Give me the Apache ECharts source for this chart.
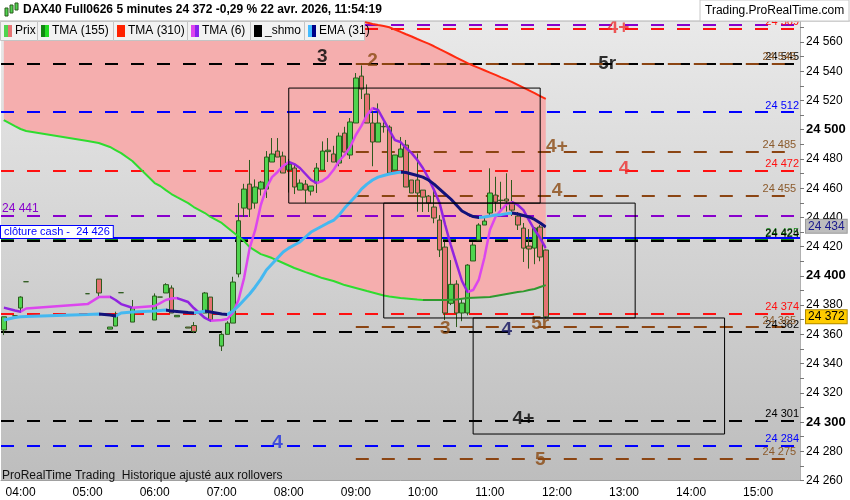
<!DOCTYPE html>
<html>
<head>
<meta charset="utf-8">
<title>DAX40 Full0626 5 minutes</title>
<script src="https://cdn.jsdelivr.net/npm/echarts@6/dist/echarts.min.js"></script>
<style>html,body{margin:0;padding:0;background:#fff;}</style>
</head>
<body>
<div id="main" style="width:850px;height:500px;"></div>
<script>
// barres 5 minutes (les barres manquantes avant 07:00 = pas de cotation)
var barTimes = ['03:45','03:55','04:00','04:05','05:00','05:10','05:20','05:25','05:30','05:40',
  '06:00','06:05','06:10','06:15','06:20','06:30','06:35','06:45','06:50',
  '07:00','07:05','07:10','07:15','07:20','07:25','07:30','07:35','07:40','07:45','07:50','07:55',
  '08:00','08:05','08:10','08:15','08:20','08:25','08:30','08:35','08:40','08:45','08:50','08:55',
  '09:00','09:05','09:10','09:15','09:20','09:25','09:30','09:35','09:40','09:45','09:50','09:55',
  '10:00','10:05','10:10','10:15','10:20','10:25','10:30','10:35','10:40','10:45','10:50','10:55',
  '11:00','11:05','11:10','11:15','11:20','11:25','11:30','11:35','11:40','11:45','11:50'];

// [ouverture, clôture, plus bas, plus haut]
var ohlc = [
  [24363,24372,24359.5,24372],[24372.7,24372.7,24372.7,24372.7],[24378,24385.5,24375.5,24386],[24396,24396,24396,24396],
  [24387.8,24387.8,24387.8,24387.8],[24397.8,24388.3,24385.7,24397.8],[24363.6,24365,24363.6,24365],[24365.7,24373.2,24365.7,24375.5],
  [24388.5,24388.5,24388.5,24388.5],[24368.4,24378.2,24368.4,24383.5],[24369.8,24386.2,24369.8,24388],[24385.5,24385.5,24385.5,24385.5],
  [24388.3,24394,24388.3,24395],[24391.7,24374.6,24374.6,24393.5],[24372,24373,24372,24373],[24365,24364.3,24364.3,24365],
  [24366,24362,24360.8,24368.4],[24374.6,24388.3,24374.6,24389],[24385.5,24369.8,24369,24385.5],
  [24352,24360,24348.6,24362],[24360,24367.7,24360,24369],[24367.7,24395.8,24367.7,24399.4],[24401.3,24437.7,24399,24449.8],
  [24446.4,24459.4,24440.3,24463],[24462.8,24445.7,24440.3,24479.3],[24449.8,24460.8,24446,24466],[24459.4,24464.2,24455,24465],
  [24459.4,24481.3,24453.3,24485.4],[24477.9,24483.4,24477.9,24494.3],[24485.4,24481.3,24481.3,24494.3],[24482,24470.4,24470.4,24485],
  [24472.4,24476.5,24457,24480],[24473.8,24460.8,24456,24477],[24458.7,24463.5,24458.7,24466],[24462.8,24458.7,24449.8,24465.6],
  [24458,24461.5,24455,24461.5],[24463.5,24473.8,24456.7,24477.2],[24472.4,24485.4,24472.4,24492],[24485,24486,24477.9,24494.3],
  [24483.4,24477.9,24477.9,24489],[24477.2,24495.7,24475,24498],[24497.7,24484.7,24484.7,24502],[24482.7,24505.3,24480,24508],
  [24504.6,24535.4,24504.6,24538.8],[24536.7,24527.8,24521,24544],[24524.4,24504.6,24504.6,24531],[24504.6,24491.6,24475,24513],
  [24491.6,24504.6,24491.6,24518],[24502,24502.3,24498,24505],[24501.8,24470.4,24470.4,24503],[24472.4,24482.7,24472.4,24482.7],
  [24481.3,24486.8,24481.3,24495],[24489.5,24460.8,24460.8,24493],[24465.6,24456.7,24456.7,24465.6],[24465.6,24456.7,24443.9,24483.8],
  [24458.7,24453.9,24443.7,24458.7],[24454.6,24449.8,24443.7,24455.3],[24447.1,24439.6,24436,24458],[24438.2,24417.7,24412.9,24441.6],
  [24419.7,24374.6,24369.8,24423.4],[24381.2,24394.2,24380,24410.8],[24394.4,24374.6,24365,24397],[24374.6,24381.4,24369,24384],
  [24374.6,24407.4,24373,24408],[24410.2,24421.1,24410.2,24423],[24424.5,24434.8,24424.5,24436],[24434.8,24437.5,24434.8,24440],
  [24443,24456.7,24441,24473.6],[24455.3,24450.5,24444,24467.8],[24451.5,24451.8,24444,24464.4],[24452.6,24451.2,24444,24470.2],
  [24449.8,24445,24441,24465.6],[24440.9,24434.8,24431.4,24443.7],[24432.7,24419,24409.5,24436.2],[24420.4,24418.4,24405,24432],
  [24419,24432.7,24408,24433.4],[24433.4,24412.9,24410,24434.8],[24417.7,24372,24371,24418]
];

var tma155 = [24506.6,24502.5,24500.5,24499.1,24492.3,24490.9,24488.2,24486.1,24484.0,24478.6,
  24463.5,24461.5,24458.7,24456.0,24453.9,24449.8,24447.1,24443.0,24440.3,
  24436.2,24433.1,24430.0,24426.9,24423.8,24419.7,24417.3,24414.9,24413.6,24412.2,24410.5,24408.8,
  24407.1,24405.4,24404.0,24402.6,24401.3,24399.9,24398.5,24397.5,24396.5,24395.1,24393.7,24392.7,
  24391.7,24390.7,24389.6,24388.6,24387.6,24386.6,24385.9,24385.4,24384.8,24384.5,24384.2,24383.8,
  24383.5,24383.5,24383.5,24383.5,24383.5,24383.7,24383.8,24384.4,24384.8,24385.0,24385.2,24385.4,
  24385.5,24386.2,24386.9,24387.6,24388.3,24388.9,24389.4,24390.3,24391.0,24392.4,24393.7];

var tma310 = [24690,24686,24684,24682,24662,24658,24654,24652,24650,24646,
  24640,24638,24636,24634,24632,24629,24627,24624,24622,
  24618.0,24616.3,24614.6,24612.9,24611.2,24609.5,24607.8,24606.1,24604.4,24602.7,24601.0,24599.3,
  24597.6,24595.9,24594.2,24592.5,24590.8,24589.1,24587.4,24585.7,24584.0,24582.3,24580.6,24578.9,
  24577.2,24575.5,24573.3,24572.4,24571.6,24570.9,24570.1,24568.5,24567.0,24565.3,24563.8,24562.1,
  24560.5,24558.9,24557.1,24555.1,24553.2,24551.3,24549.4,24547.5,24545.6,24543.9,24542.3,24540.7,
  24539.1,24537.5,24535.8,24534.3,24532.6,24530.7,24528.8,24526.9,24525.0,24523.0,24521.1];

var tma6 = [24378.3,24376.3,24375.5,24377.7,24380.7,24385.5,24385.7,24383.5,24380.7,24378.2,
  24379.4,24381.4,24383.5,24384.5,24384.8,24382.1,24378.0,24371.2,24369.3,
  24369.8,24370.5,24374.6,24383.5,24398.5,24419.0,24431.4,24448.5,24460.1,24467.6,24471.1,24475.2,
  24477.9,24476.5,24473.8,24469.7,24465.6,24463.5,24464.9,24467.6,24472.4,24478.6,24482.7,24488.2,
  24496.4,24502.6,24510.0,24514.8,24513.5,24506.6,24499.8,24492.9,24491.6,24487.5,24484.0,24479.3,
  24473.8,24466.9,24458.7,24449.8,24434.8,24421.1,24408.8,24396.5,24389.0,24390.3,24397.2,24412.2,
  24431.4,24440.3,24445.0,24449.1,24450.5,24448.5,24445.0,24438.2,24431.4,24425.9,24419.0];

var ema31 = [24369.8,24371.5,24372.0,24372.2,24373.6,24373.9,24373.2,24372.5,24374.6,24375.3,
  24375.9,24376.3,24376.6,24375.9,24375.6,24374.9,24374.6,24375.9,24375.3,
  24373.9,24373.6,24375.9,24379.4,24383.5,24387.6,24392.4,24397.8,24404.0,24408.1,24412.2,24416.3,
  24419.0,24421.1,24423.2,24426.6,24430.0,24432.1,24434.1,24436.2,24437.9,24441.6,24446.4,24450.5,
  24454.6,24459.4,24462.8,24465.6,24467.6,24468.7,24469.7,24470.4,24471.1,24470.7,24469.7,24468.7,
  24467.6,24465.6,24462.8,24459.4,24456.0,24452.6,24448.5,24444.4,24442.3,24440.6,24439.9,24440.3,
  24440.9,24441.6,24441.9,24442.6,24443.0,24442.3,24441.3,24440.3,24438.6,24436.2,24433.4];

// niveaux horizontaux tracés sur toute la largeur
var fullLevels = [24572, 24569, 24545, 24512, 24472, 24441, 24425, 24424, 24374, 24362, 24301, 24284];
var fullColors = ['#8800cc','#ff1010','#000000','#0000ff','#ff1010','#8800cc','#1a8a1a','#000000','#ff1010','#000000','#000000','#0000ff'];
// niveaux marron, à partir de 09:00
var brownLevels = [24545, 24485, 24455, 24365, 24275];
var cashClose = 24426;
var lastPrice = 24372;
var emaTag = 24434;

// rectangles [début, haut, fin, bas]
var boxes = [['08:00',24528.5,'11:45',24449.8],['09:25',24449.8,'13:10',24371.2],['10:45',24371.2,'14:30',24291.8]];

// annotations [heure, prix, texte, type]
var notes = [
  ['08:30',24550,'3','k'],['09:15',24547.5,'2','b'],['12:45',24545,'5r','k'],['12:55',24570,'4+','r'],
  ['12:00',24488,'4+','b'],['13:00',24473.5,'4','r'],['12:00',24458.5,'4','b'],
  ['10:20',24364,'3','b'],['11:15',24363,'4','n'],['11:45',24367,'5r','b'],
  ['11:30',24302.5,'4+','k'],['07:50',24285.5,'4','u'],['11:45',24274.5,'5','b']
];
var noteColors = {k:'#000000', b:'#8b4a12', r:'#ee3030', n:'#12125e', u:'#2030e0'};

function pad(n){ return (n < 10 ? '0' : '') + n; }
function fmt(v){ return String(Math.round(v)).replace(/\B(?=(\d{3})+(?!\d))/g, ' '); }

var slots = [];
for (var m = 3*60+45; m <= 15*60+35; m += 5) slots.push(pad(Math.floor(m/60)) + ':' + pad(m%60));
var slotIdx = barTimes.map(function(t){ return slots.indexOf(t); });

function pairs(vals){ return vals.map(function(v,i){ return [barTimes[i], v]; }); }
function fallPieces(vals, color){
  var out = [];
  for (var i = 1; i < vals.length; i++) {
    if (vals[i] < vals[i-1]) {
      var last = out[out.length-1];
      if (last && last.lte === slotIdx[i-1]) last.lte = slotIdx[i];
      else out.push({gte: slotIdx[i-1], lte: slotIdx[i], color: color});
    }
  }
  return out;
}

var candleData = ohlc.map(function(d,i){ return [barTimes[i], d[0], d[1], d[2], d[3]]; });
var bandDiff = tma310.map(function(v,i){ return +(v - tma155[i]).toFixed(1); });

var dash = [13, 13];
var lineMarks = [];
fullLevels.forEach(function(v,i){
  var item = {yAxis: v, lineStyle: {color: fullColors[i], type: dash, width: 2},
    label: {show: true, position: 'insideEndTop', distance: 1, color: fullColors[i], fontSize: 11, formatter: fmt(v)}};
  if (v === 24572) item.label.show = false;
  if (v === 24441) { item.label.position = 'insideStartTop'; item.label.fontSize = 12; }
  lineMarks.push(item);
});
brownLevels.forEach(function(v){
  lineMarks.push([{coord: ['09:00', v], lineStyle: {color: '#8b4513', type: dash, width: 2},
    label: {show: true, position: 'insideEndTop', distance: 1, color: '#8b5a2b', fontSize: 11, formatter: fmt(v)}},
    {coord: [slots[slots.length-1], v]}]);
});
lineMarks.push({yAxis: cashClose, lineStyle: {color: '#0000ff', type: 'solid', width: 2},
  label: {show: true, position: 'insideStartTop', distance: 0, color: '#0000ff', fontSize: 11,
    backgroundColor: '#ffffff', borderColor: '#0000ff', borderWidth: 1, padding: [1,3,0,3],
    formatter: 'clôture cash -  ' + fmt(cashClose)}});
lineMarks.push({yAxis: lastPrice, lineStyle: {width: 0, color: 'transparent'},
  label: {show: true, position: 'end', distance: 6, color: '#000', fontSize: 12, backgroundColor: '#ffcc00',
    borderColor: '#b08a00', borderWidth: 1, padding: [1,2,0,2], formatter: fmt(lastPrice)}});
lineMarks.push({yAxis: emaTag, lineStyle: {width: 0, color: 'transparent'},
  label: {show: true, position: 'end', distance: 6, color: '#1a1a8c', fontSize: 12, backgroundColor: '#bdbdbd',
    borderColor: '#9a9a9a', borderWidth: 1, padding: [1,2,0,2], formatter: fmt(emaTag)}});

var areaMarks = boxes.map(function(b){ return [{coord: [b[0], b[1]]}, {coord: [b[2], b[3]]}]; });

var noteData = notes.map(function(n){
  return {value: [n[0], n[1]], label: {formatter: n[2], color: noteColors[n[3]]}};
});

// légende en tête
var legendItems = [
  ['Prix', '#4fd44f', '#e57373', 0, 37],
  ['TMA (155)', '#118811', '#22dd22', 37, 76],
  ['TMA (310)', '#ff2200', '#ff2200', 113, 74],
  ['TMA (6)', '#dd44ee', '#8822ee', 187, 63],
  ['_shmo', '#000000', '#000000', 250, 54],
  ['EMA (31)', '#44bbff', '#000088', 304, 60]
];
var graphics = [
  {type: 'rect', z: 100, shape: {x: 0, y: 0, width: 850, height: 21}, style: {fill: '#ffffff'}},
  {type: 'line', z: 100, shape: {x1: 0, y1: 21, x2: 850, y2: 21}, style: {stroke: '#b0b0b0', lineWidth: 1}},
  {type: 'rect', z: 101, shape: {x: 5, y: 8, width: 3, height: 8}, style: {fill: '#4fd44f', stroke: '#2d5a1e'}},
  {type: 'rect', z: 101, shape: {x: 10, y: 5, width: 3, height: 8}, style: {fill: '#4fd44f', stroke: '#2d5a1e'}},
  {type: 'rect', z: 101, shape: {x: 15, y: 3, width: 3, height: 7}, style: {fill: '#4fd44f', stroke: '#2d5a1e'}},
  {type: 'text', z: 101, x: 23, y: 4, style: {text: 'DAX40 Full0626 5 minutes 24 372 -0,29 % 22 avr. 2026, 11:54:19',
    font: 'bold 12px "Liberation Sans", Arial, sans-serif', fill: '#000'}},
  {type: 'rect', z: 101, shape: {x: 700, y: 0, width: 149, height: 21}, style: {fill: '#ffffff', stroke: '#c8c8c8'}},
  {type: 'text', z: 102, x: 705, y: 5, style: {text: 'Trading.ProRealTime.com', font: '12px "Liberation Sans", Arial, sans-serif', fill: '#000'}},
  {type: 'text', z: 50, x: 2, y: 470, style: {text: 'ProRealTime Trading  Historique ajusté aux rollovers',
    font: '12px "Liberation Sans", Arial, sans-serif', fill: '#111'}}
];
legendItems.forEach(function(it){
  graphics.push({type: 'rect', z: 100, shape: {x: it[3] + 0.5, y: 21.5, width: it[4], height: 19},
    style: {fill: '#f2f2f2', stroke: '#c4c4c4'}});
  graphics.push({type: 'rect', z: 101, shape: {x: it[3] + 4, y: 25, width: 4, height: 12}, style: {fill: it[1]}});
  graphics.push({type: 'rect', z: 101, shape: {x: it[3] + 8, y: 25, width: 4, height: 12}, style: {fill: it[2]}});
  graphics.push({type: 'text', z: 101, x: it[3] + 15, y: 25, style: {text: it[0],
    font: '12px "Liberation Sans", Arial, sans-serif', fill: '#000'}});
});

var hourOnly = function(index, value){ return value.slice(3) === '00'; };

var myChart = echarts.init(document.getElementById('main'));
var option = {
  animation: false,
  backgroundColor: '#ffffff',
  textStyle: {fontFamily: '"Liberation Sans", Arial, sans-serif'},
  grid: {left: 1, right: 50, top: 12.8, bottom: 19.5, show: true, borderWidth: 0,
    backgroundColor: {type: 'linear', x: 0, y: 0, x2: 0, y2: 1,
      colorStops: [{offset: 0, color: '#eaeaea'}, {offset: 1, color: '#bdbdbd'}]}},
  xAxis: {
    type: 'category', data: slots, boundaryGap: true,
    axisLine: {lineStyle: {color: '#a0a0a0'}},
    axisTick: {alignWithLabel: true, interval: hourOnly, length: 5, lineStyle: {color: '#777'}},
    axisLabel: {interval: hourOnly, color: '#000', fontSize: 12, margin: 6},
    splitLine: {show: false}
  },
  yAxis: {
    type: 'value', position: 'right', min: 24260, max: 24580, interval: 10,
    axisLine: {show: true, lineStyle: {color: '#b0b0b0'}},
    axisTick: {show: true, length: 4, lineStyle: {color: '#777'}},
    splitLine: {show: false},
    axisLabel: {
      margin: 6, color: '#000',
      formatter: function(v){
        if (v % 20 !== 0) return '';
        return v % 100 === 0 ? '{b|' + fmt(v) + '}' : '{n|' + fmt(v) + '}';
      },
      rich: {n: {fontSize: 12, color: '#000'}, b: {fontSize: 13, fontWeight: 'bold', color: '#000'}}
    }
  },
  visualMap: [
    {type: 'piecewise', show: false, seriesIndex: 3, dimension: 0, pieces: fallPieces(tma155, '#2fdc2f'), outOfRange: {color: '#2f9a2f'}},
    {type: 'piecewise', show: false, seriesIndex: 5, dimension: 0, pieces: fallPieces(tma6, '#9124e0'), outOfRange: {color: '#dc46ee'}},
    {type: 'piecewise', show: false, seriesIndex: 6, dimension: 0, pieces: fallPieces(ema31, '#12127a'), outOfRange: {color: '#45b8f0'}}
  ],
  graphic: graphics,
  series: [
    {
      name: 'Prix', type: 'candlestick', z: 5, barWidth: 5,
      encode: {x: 0, y: [1, 2, 3, 4]},
      data: candleData,
      itemStyle: {color: '#4fd44f', color0: '#e57373', borderColor: '#2d5a1e', borderColor0: '#2d5a1e', borderWidth: 1}
    },
    {
      name: 'base', type: 'line', stack: 'band', z: 1, silent: true, symbol: 'none',
      data: pairs(tma155), lineStyle: {opacity: 0}
    },
    {
      name: 'bande', type: 'line', stack: 'band', z: 1, silent: true, symbol: 'none',
      data: pairs(bandDiff), lineStyle: {opacity: 0},
      areaStyle: {color: '#f5aeae', opacity: 1}
    },
    {name: 'TMA (155)', type: 'line', z: 6, symbol: 'none', data: pairs(tma155), lineStyle: {width: 2}},
    {name: 'TMA (310)', type: 'line', z: 6, symbol: 'none', data: pairs(tma310), lineStyle: {width: 2, color: '#ff2a10'}},
    {name: 'TMA (6)', type: 'line', z: 7, symbol: 'none', data: pairs(tma6), lineStyle: {width: 2.5}},
    {name: 'EMA (31)', type: 'line', z: 7, symbol: 'none', data: pairs(ema31), lineStyle: {width: 3}},
    {
      name: 'niveaux', type: 'line', z: 3, data: [], symbol: 'none',
      markLine: {silent: true, symbol: ['none', 'none'], animation: false, data: lineMarks},
      markArea: {silent: true, z: 10, itemStyle: {color: 'rgba(0,0,0,0)', borderColor: '#000', borderWidth: 1}, data: areaMarks}
    },
    {
      name: 'notes', type: 'scatter', z: 8, symbolSize: 1, silent: true,
      itemStyle: {color: 'rgba(0,0,0,0)'},
      label: {show: true, position: 'inside', fontSize: 19, fontWeight: 'bold'},
      data: noteData
    }
  ]
};
myChart.setOption(option);
</script>
</body>
</html>
